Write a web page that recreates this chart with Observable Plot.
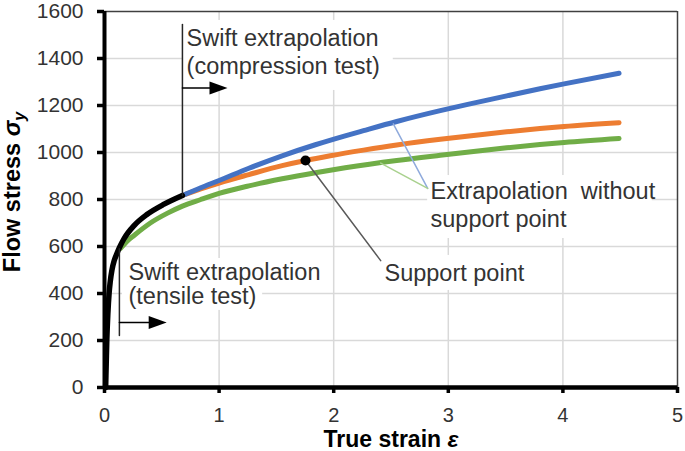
<!DOCTYPE html>
<html><head><meta charset="utf-8">
<script src="https://cdn.jsdelivr.net/npm/d3@7"></script>
<script src="https://cdn.jsdelivr.net/npm/@observablehq/plot@0.6"></script>
<style>
html,body{margin:0;padding:0;background:#fff;}
#chart svg{display:block;}
</style></head><body><div id="chart"></div>
<script>
// ---- axis ticks ----
const xTicks = [0, 1, 2, 3, 4, 5];
const yTicks = [0, 200, 400, 600, 800, 1000, 1200, 1400, 1600];
const gridXVals = [1, 2, 3, 4];
const gridYVals = [200, 400, 600, 800, 1000, 1200, 1400];

// ---- experimental flow curve (black) ----
const expStrain = [0.01, 0.015, 0.02, 0.03, 0.04, 0.05, 0.065, 0.085, 0.11, 0.13, 0.17, 0.26, 0.37, 0.52, 0.68];
const expStress = [0, 100, 200, 320, 400, 450, 500, 540, 572, 595, 633, 690, 736, 780, 817];

// ---- Swift extrapolation, tensile test (green) ----
const tensileStrain = [0.14, 0.2, 0.26, 0.4, 0.55, 0.68, 0.84, 1.0, 1.26, 1.55, 1.84, 2.1, 2.55, 2.93, 3.22, 3.51, 3.8, 4.01, 4.49];
const tensileStress = [592, 624, 648, 700, 742, 772, 800, 826, 858, 888, 914, 935, 966, 988, 1004, 1020, 1034, 1043, 1060];

// ---- extrapolation with support point (orange) ----
const supportStrain = [0.68, 0.84, 1.0, 1.26, 1.55, 1.754, 1.97, 2.26, 2.55, 2.93, 3.22, 3.51, 3.8, 4.01, 4.49];
const supportStress = [817, 845, 870, 906, 944, 966, 986, 1010, 1032, 1056, 1072, 1088, 1102, 1111, 1127];

// ---- extrapolation without support point (blue) ----
const noSupportStrain = [0.68, 0.84, 1.0, 1.26, 1.55, 1.84, 2.1, 2.26, 2.55, 2.93, 3.22, 3.51, 3.8, 4.01, 4.49];
const noSupportStress = [817, 850, 881, 933, 986, 1033, 1071, 1093, 1132, 1178, 1210, 1241, 1271, 1292, 1337];

// ---- support point ----
const supportPointStrain = [1.754];
const supportPointStress = [966];

// ---- annotation texts (data units) ----
const noteText = ["Swift extrapolation", "(compression test)", "Swift extrapolation", "(tensile test)", "Extrapolation\u00a0 without", "support point", "Support point"];
const noteX = [0.716, 0.716, 0.209, 0.209, 2.845, 2.845, 2.443];
const noteY = [1453, 1332, 457, 355, 802, 685, 455];

// ---- white text boxes (data units) ----
const boxX1 = [0.68, 0.157, 2.82, 2.41];
const boxX2 = [2.52, 1.38, 4.78, 3.73];
const boxY1 = [1264, 328, 634, 413];
const boxY2 = [1562, 549, 902, 562];

// ---- leader lines ----
const leaderGroup = ["comp", "comp", "compArrow", "compArrow", "tens", "tens", "tensArrow", "tensArrow", "support", "support", "blue", "blue", "green", "green"];
const leaderX = [0.68, 0.68, 0.68, 0.94, 0.13, 0.13, 0.13, 0.40, 1.754, 2.41, 2.52, 2.82, 2.41, 2.82];
const leaderY = [1545, 817, 1275, 1275, 590, 221, 277, 277, 966, 540, 1122, 847, 955, 847];
const leaderColor = {comp: "#262626", compArrow: "#000", tens: "#262626", tensArrow: "#000", support: "#595959", blue: "#8faadc", green: "#a9d18e"};

// ---- arrow heads ----
const headX = [0.995, 0.464];
const headY = [1275, 277];

const toRows = (xs, ys) => xs.map((x, i) => ({x, y: ys[i]}));
const exp = toRows(expStrain, expStress);
const tens = toRows(tensileStrain, tensileStress);
const sup = toRows(supportStrain, supportStress);
const nosup = toRows(noSupportStrain, noSupportStress);
const spt = toRows(supportPointStrain, supportPointStress);
const notes = noteText.map((t, i) => ({t, x: noteX[i], y: noteY[i]}));
const boxes = boxX1.map((x1, i) => ({x1, x2: boxX2[i], y1: boxY1[i], y2: boxY2[i]}));
const leaders = leaderGroup.map((g, i) => ({g, x: leaderX[i], y: leaderY[i]}));
const heads = toRows(headX, headY);

const rightTriangle = {draw(ctx) { ctx.moveTo(9, 0); ctx.lineTo(-9, -6.5); ctx.lineTo(-9, 6.5); ctx.closePath(); }};

const FONT = "'Liberation Sans', Arial, sans-serif";

const plot = Plot.plot({
  width: 685,
  height: 451,
  marginLeft: 104,
  marginRight: 8,
  marginTop: 11,
  marginBottom: 64,
  style: {fontFamily: FONT, background: "#fff"},
  x: {domain: [0, 5]},
  y: {domain: [0, 1600]},
  marks: [
    Plot.ruleX(gridXVals, {stroke: "#d9d9d9", strokeWidth: 1.5}),
    Plot.ruleY(gridYVals, {stroke: "#d9d9d9", strokeWidth: 1.5}),
    Plot.rect(boxes, {x1: "x1", x2: "x2", y1: "y1", y2: "y2", fill: "#fff"}),
    Plot.ruleY([1600], {stroke: "#404040", strokeWidth: 1.5}),
    Plot.ruleX([5], {stroke: "#404040", strokeWidth: 1.5}),
    Plot.line(tens, {x: "x", y: "y", stroke: "#70ad47", strokeWidth: 5, strokeLinecap: "round", curve: "monotone-x"}),
    Plot.line(sup, {x: "x", y: "y", stroke: "#ed7d31", strokeWidth: 5, strokeLinecap: "round", curve: "monotone-x"}),
    Plot.line(nosup, {x: "x", y: "y", stroke: "#4472c4", strokeWidth: 5, strokeLinecap: "round", curve: "monotone-x"}),
    Plot.line(exp, {x: "x", y: "y", stroke: "#000", strokeWidth: 5.5, strokeLinecap: "round", curve: "monotone-x"}),
    Plot.line(leaders, {x: "x", y: "y", z: "g", stroke: d => leaderColor[d.g], strokeWidth: 1.5}),
    Plot.dot(heads, {x: "x", y: "y", symbol: rightTriangle, fill: "#000", stroke: "none", r: 5}),
    Plot.dot(spt, {x: "x", y: "y", r: 5, fill: "#000", stroke: "none"}),
    Plot.text(notes, {x: "x", y: "y", text: "t", textAnchor: "start", lineAnchor: "bottom", fontSize: 23.5, fill: "#333"}),
    Plot.ruleX([0], {stroke: "#000", strokeWidth: 4}),
    Plot.ruleY([0], {stroke: "#000", strokeWidth: 4.5}),
    Plot.axisX(xTicks, {tickSize: 6, tickPadding: 14, fontSize: 20, stroke: "#000", strokeWidth: 3.5, fill: "#333", label: null, tickFormat: d => `${d}`}),
    Plot.axisY(yTicks, {tickSize: 7, tickPadding: 14, fontSize: 21, stroke: "#000", strokeWidth: 3.5, fill: "#333", label: null, tickFormat: d => `${d}`})
  ]
});

document.getElementById("chart").appendChild(plot);

const svg = d3.select(plot);
const xt = svg.append("text")
  .attr("x", 391).attr("y", 447)
  .attr("text-anchor", "middle")
  .attr("font-family", FONT).attr("font-size", 23).attr("font-weight", "bold").attr("fill", "#000");
xt.append("tspan").text("True strain ");
xt.append("tspan").attr("font-style", "italic").text("ε");

const yt = svg.append("text")
  .attr("transform", "translate(20,192) rotate(-90)")
  .attr("text-anchor", "middle")
  .attr("font-family", FONT).attr("font-size", 23.5).attr("font-weight", "bold").attr("fill", "#000");
yt.append("tspan").text("Flow stress ");
yt.append("tspan").attr("font-style", "italic").text("σ");
yt.append("tspan").attr("font-style", "italic").attr("font-size", 16).attr("dy", 5).text("y");
</script>
</body></html>
